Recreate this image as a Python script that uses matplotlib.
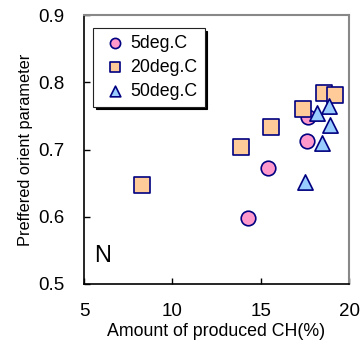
import matplotlib
matplotlib.use("Agg")
import matplotlib.pyplot as plt

plt.rcParams['font.family'] = ['Liberation Sans', 'DejaVu Sans']

x5 = [14.3, 15.43, 17.64, 17.7]
y5 = [0.598, 0.673, 0.712, 0.748]
x20 = [8.26, 13.89, 15.58, 17.41, 18.6, 19.2]
y20 = [0.647, 0.704, 0.734, 0.761, 0.784, 0.781]
x50 = [17.5, 18.45, 18.92, 18.2, 18.88]
y50 = [0.651, 0.709, 0.736, 0.755, 0.765]

fig = plt.figure(figsize=(3.61, 3.42), dpi=100)
ax = fig.add_axes([0.2327, 0.1696, 0.7341, 0.7864])

edge = '#000080'
ax.scatter(x5, y5, s=110, marker='o', facecolor='#FF99CC', edgecolor=edge, linewidth=1.2, label='5deg.C', zorder=3)
ax.scatter(x20, y20, s=120, marker='s', facecolor='#FFCC99', edgecolor=edge, linewidth=1.2, label='20deg.C', zorder=3)
ax.scatter(x50, y50, s=120, marker='^', facecolor='#99CCFF', edgecolor=edge, linewidth=1.2, label='50deg.C', zorder=3)

ax.set_xlim(5, 20)
ax.set_ylim(0.5, 0.9)
ax.set_xticks([5, 10, 15, 20])
ax.set_yticks([0.5, 0.6, 0.7, 0.8, 0.9])
ax.set_xticklabels(['5', '10', '15', '20'])
ax.set_yticklabels(['0.5', '0.6', '0.7', '0.8', '0.9'])
ax.tick_params(direction='in', length=4, labelsize=13.5, width=1)
ax.tick_params(axis='x', pad=14)
ax.tick_params(axis='y', pad=14)
for s in ['top', 'right']:
    ax.spines[s].set_color('#888888')
    ax.spines[s].set_linewidth(1.5)
for s in ['left', 'bottom']:
    ax.spines[s].set_color('black')
    ax.spines[s].set_linewidth(1.2)
ax.tick_params(top=False, right=False)

ax.set_xlabel('Amount of produced CH(%)', fontsize=12.8, labelpad=1.5)
ax.set_ylabel('Preffered orient parameter', fontsize=11.8, labelpad=4)

ax.text(0.04, 0.08, 'N', transform=ax.transAxes, fontsize=17)

leg = ax.legend(loc='upper left', bbox_to_anchor=(0.034, 0.952), fontsize=12.8, frameon=True,
                fancybox=False, shadow={'color': 'black', 'alpha': 1}, markerscale=0.7,
                handletextpad=0.0, borderpad=0.4, labelspacing=0.38, handlelength=1.7,
                edgecolor='#222222', borderaxespad=0)
leg.get_frame().set_linewidth(0.8)

fig.savefig('out.png', dpi=100)
